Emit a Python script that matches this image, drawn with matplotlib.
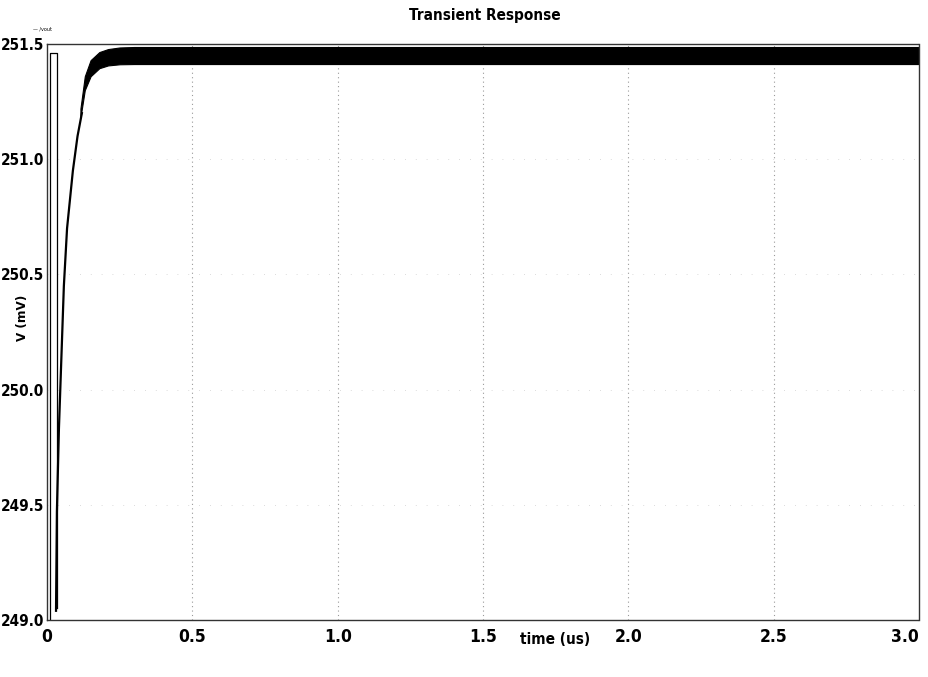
import matplotlib
matplotlib.use("Agg")
import matplotlib.pyplot as plt
from matplotlib import font_manager

# ---- data ----
# start-up pulse (t in us, V in mV)
pulse_t = [0.010, 0.010, 0.034, 0.034]
pulse_v = [249.00, 251.46, 251.46, 249.05]

# rising edge of the response
rise_t = [0.031, 0.034, 0.041, 0.058, 0.069, 0.089, 0.105, 0.120]
rise_v = [249.04, 249.47, 249.83, 250.45, 250.70, 250.95, 251.10, 251.20]

# ripple band envelopes after the rise
band_t = [0.115, 0.13, 0.15, 0.18, 0.21, 0.25, 0.30, 3.0]
band_upper = [251.22, 251.36, 251.43, 251.465, 251.478, 251.485, 251.487, 251.487]
band_lower = [251.18, 251.30, 251.36, 251.395, 251.407, 251.412, 251.413, 251.413]

x_ticks = [0, 0.5, 1.0, 1.5, 2.0, 2.5, 3.0]
x_labels = ["0", "0.5", "1.0", "1.5", "2.0", "2.5", "3.0"]
y_ticks = [249.0, 249.5, 250.0, 250.5, 251.0, 251.5]
y_labels = ["249.0", "249.5", "250.0", "250.5", "251.0", "251.5"]

names = {f.name for f in font_manager.fontManager.ttflist}
fam = "Liberation Sans Narrow" if "Liberation Sans Narrow" in names else "DejaVu Sans"

fig = plt.figure(figsize=(9.29, 6.77), dpi=100)
ax = fig.add_axes([0.0506, 0.0842, 0.9386, 0.8508])

ax.plot(pulse_t, pulse_v, color="black", lw=0.9)
ax.plot(rise_t, rise_v, color="black", lw=1.6)
ax.fill_between(band_t, band_lower, band_upper, color="black", lw=0.8, edgecolor="black")

ax.set_xlim(0, 3.0)
ax.set_ylim(249.0, 251.5)
ax.set_xticks(x_ticks)
ax.set_xticklabels(x_labels)
ax.set_yticks(y_ticks)
ax.set_yticklabels(y_labels)
ax.tick_params(axis="y", length=0, pad=2)
ax.tick_params(axis="x", length=0, pad=6)
for lab in ax.get_xticklabels():
    lab.set_family(fam)
    lab.set_fontsize(12.5)
    lab.set_fontstretch("condensed")
    lab.set_fontweight("bold")
for lab in ax.get_yticklabels():
    lab.set_family(fam)
    lab.set_fontsize(11)
    lab.set_fontstretch("condensed")
    lab.set_fontweight("bold")
ax.get_xticklabels()[-1].set_horizontalalignment("right")
ax.get_xticklabels()[-1].set_x(3.03)

for x in x_ticks[1:-1]:
    ax.axvline(x, color="#9a9a9a", lw=0.8, ls=(0, (1, 3)), zorder=0)
for y in y_ticks[1:-1]:
    ax.axhline(y, color="#cfcfcf", lw=0.6, ls=(0, (1, 12)), zorder=0)

for s in ax.spines.values():
    s.set_linestyle((0, (1, 1)))
    s.set_linewidth(1.0)
    s.set_color("#333333")

fig.text(0.522, 0.977, "Transient Response", ha="center", va="center",
         family=fam, fontsize=11, fontweight="bold", fontstretch="condensed")
fig.text(0.598, 0.055, "time (us)", ha="center", va="center",
         family=fam, fontsize=11, fontweight="bold", fontstretch="condensed")
fig.text(0.024, 0.53, "V (mV)", ha="center", va="center", rotation=90,
         family=fam, fontsize=9.5, fontweight="bold", fontstretch="condensed")
fig.text(0.036, 0.957, "\u2014 /vout", ha="left", va="center",
         family="DejaVu Sans", fontsize=3.5)

fig.savefig("out.png", dpi=100)
